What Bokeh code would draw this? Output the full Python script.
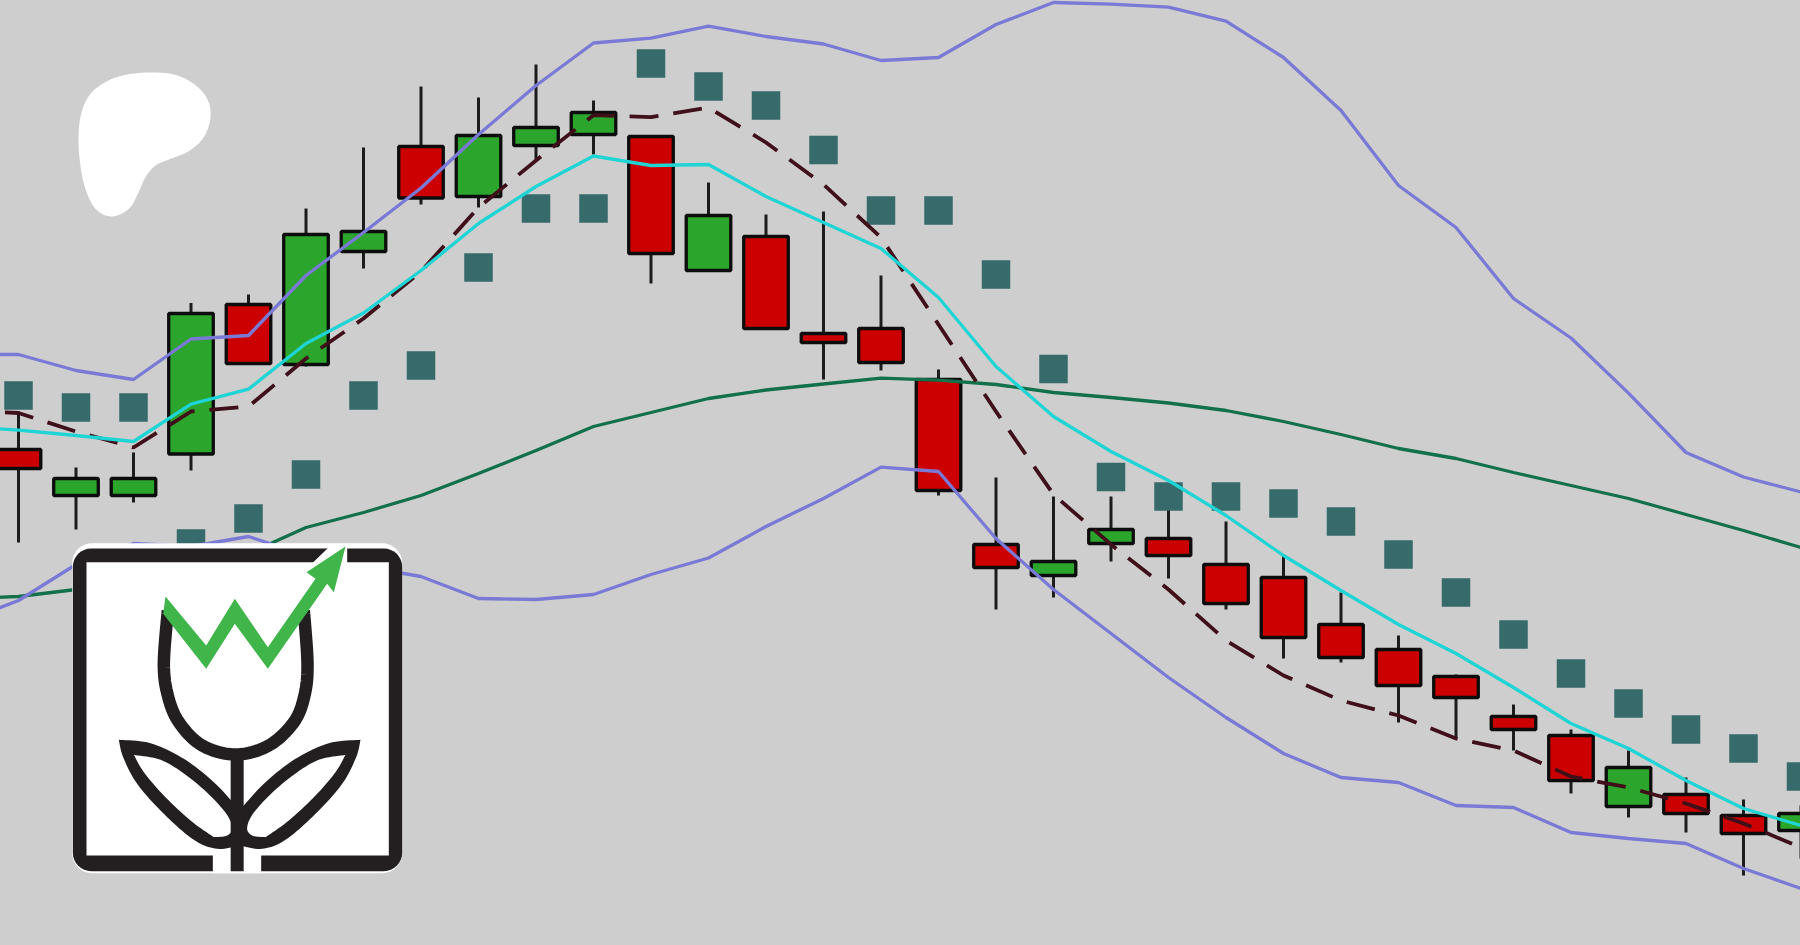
from bokeh.plotting import figure
from bokeh.models import Range1d
from bokeh.embed import file_html
from bokeh.resources import INLINE
import math

# ---- chart values (vertical scale runs downward) ----
direction = ["d","u","u","u","d","u","u","d","u","u","u","d","u","d","d","d","d","d","u","u",
             "d","d","d","d","d","d","d","d","u","d","d","u"]
body_top = [449,478,478,313,304,234,231,146,135,127,112,136,215,236,333,328,379,544,561,529,
            538,564,577,624,649,676,716,735,767,794,815,813]
body_bottom = [468,495,495,453.5,363,364,251,197.5,196,145,134,253,270,328,342,362,490,567,575,543,
               555,603,637,657,685,697,729,780,806,813,833,830]
wick_high = [411,467,452,302.5,294,208,147,86,97,64,100,136,182,214,211,275,369,477,496,496,
             510,521,555,592,635,674,704,729,750,777,799,805]
wick_low = [542,529,502,470,363,366,268,204,207,159,154,283,270,328,379,370,495,609,597,561,
            578,609,658,662,722,738,750,793,817,832,875,858]
sar = [395,407,407,543,518,474,395,365,267,208,208,63,86,105,149.5,210,210,274,368.5,476.5,
       496,496,503,521,554,592,634,673,703,729,748,776]
# the indicator lines start one bar before the first visible candle
band_upper = [354,354,370,379,338.5,335,275,232,187.5,134,85,42.5,37.6,25.7,36,43.5,60,57,24,2,3.6,
              6.7,20.7,57,110,185,227,298,337.5,392.6,452,476.5,491.5]
band_lower = [622,600,564,543,546,536,555,566,576,598,599,594,574,557.5,526,498,466.6,471,538,589,633,
              677,717,753,777,782,805,807,832,838,843,868,888]
fast_ma = [426,429.6,435,441,403.6,388.6,343,312.5,270,223,186,155.5,165,164,196,222,248,297,366,416,451,
           480,515,555,590,624,653,687,723,748,780,808,825]
slow_ma = [598,596,589,578,566,553,527,512,495,473,450,426,412,398,389.5,383.5,377.6,379.6,384,392,397,
           402.5,410,421,434,448,458,472,485,498,514,530,547]
mid_ma = [410,412.5,431,447,411,406,358,318,271,207,160,114.7,116.6,107,142,184,237,324,411,494,544,
          589,640,675,700,715,738,750,776,787,803,823,847]
index = list(range(len(direction)))
line_index = list(range(-1, len(direction)))

STEP = 57.5
X0 = 18.0
BG = "#cecece"
PAD = 4


def chart_x(px):
    return (px - X0) / STEP


p = figure(width=1800 + 2 * PAD, height=945 + 2 * PAD, output_backend="svg", toolbar_location=None,
           x_range=Range1d(chart_x(-PAD), chart_x(1800 + PAD)), y_range=Range1d(945 + PAD, -PAD),
           x_axis_location=None, y_axis_location=None, min_border=0,
           background_fill_color=BG, border_fill_color=BG, outline_line_color=None,
           styles={"position": "fixed", "left": f"{-PAD}px", "top": f"{-PAD}px",
                   "filter": "blur(0.7px)"})
p.grid.visible = False

# ---- parabolic SAR ----
p.scatter(index, sar, marker="square", size=28.5, fill_color="#366a6b", line_color=None)

# ---- candles ----
COL = {"u": "#2ca52c", "d": "#cc0000"}
p.segment(index, wick_high, index, wick_low, line_color="#1c1c1c", line_width=3)
p.vbar(x=index, width=0.775, top=body_top, bottom=body_bottom,
       fill_color=[COL[d] for d in direction], line_color="#0c0c0c", line_width=3.3)

# ---- indicator lines ----
p.line(line_index, slow_ma, line_color="#12704a", line_width=3.3)
p.line(line_index, band_upper, line_color="#7a7ad6", line_width=3.3)
p.line(line_index, band_lower, line_color="#7a7ad6", line_width=3.3)
p.line(line_index, mid_ma, line_color="#3f0f1a", line_width=3.8, line_dash="29 15")
p.line(line_index, fast_ma, line_color="#1fd4d4", line_width=3.3)


# ---- decorations: shapes are drawn in pixel space and passed through the scales ----
def _cr(p0, p1, p2, p3, t):
    f = lambda a, b, c, d: 0.5 * (2 * b + (c - a) * t + (2 * a - 5 * b + 4 * c - d) * t * t
                                  + (3 * b - a - 3 * c + d) * t ** 3)
    return f(p0[0], p1[0], p2[0], p3[0]), f(p0[1], p1[1], p2[1], p3[1])


def spline(pts, n=10):
    m = len(pts)
    return [_cr(pts[i - 1], pts[i], pts[(i + 1) % m], pts[(i + 2) % m], k / n)
            for i in range(m) for k in range(n)]


def open_spline(pts, n=10):
    q = [pts[0]] + list(pts) + [pts[-1]]
    out = [_cr(q[i - 1], q[i], q[i + 1], q[i + 2], k / n)
           for i in range(1, len(q) - 2) for k in range(n)]
    return out + [pts[-1]]


blob = [(270, 36), (340, 42), (400, 70), (440, 115), (450, 170), (430, 230), (385, 272), (330, 295),
        (285, 315), (255, 350), (232, 400), (205, 445), (155, 468), (110, 450), (80, 400), (62, 330),
        (54, 240), (62, 160), (90, 100), (140, 62), (200, 42)]
blob_s = spline(blob)
p.patch([chart_x(60 + a / 3) for a, b in blob_s], [60 + b / 3 for a, b in blob_s],
        fill_color="white", line_color=None)


def lx(v):
    return chart_x(50 + v / 3)


def ly(v):
    return 520 + v / 3


def lpatch(pts, **kw):
    p.patch([lx(a) for a, b in pts], [ly(b) for a, b in pts], **kw)


def lline(pts, **kw):
    p.line([lx(a) for a, b in pts], [ly(b) for a, b in pts], **kw)


def rrect(x0, y0, x1, y1, r):
    out = []
    for cx, cy, a0 in [(x1 - r, y0 + r, -90), (x1 - r, y1 - r, 0), (x0 + r, y1 - r, 90), (x0 + r, y0 + r, 180)]:
        for k in range(9):
            a = math.radians(a0 + k * 90 / 8)
            out.append((cx + r * math.cos(a), cy + r * math.sin(a)))
    return out


INK = "#231f20"
lpatch(rrect(65, 68, 1055, 1058, 60), fill_color="white", line_color=None)
lpatch(rrect(67, 84, 1055, 1052, 55), fill_color=INK, line_color=None)
lpatch([(108, 125), (1015, 125), (1015, 1005), (108, 1005)], fill_color="white", line_color=None)
lpatch([(487, 1000), (632, 1000), (632, 1058), (487, 1058)], fill_color="white", line_color=None)
lpatch([(835, 80), (890, 80), (890, 128), (785, 128)], fill_color="white", line_color=None)

tulip = open_spline([(352, 270), (340, 430), (352, 525), (385, 605), (455, 675), (555, 702),
                     (655, 675), (730, 605), (762, 525), (771, 430), (760, 270)])
lline(tulip, line_color=INK, line_width=12.5)

leaf_outer_up = [(205, 658), (300, 668), (400, 715), (490, 785), (560, 860)]
leaf_outer_down = [(565, 975), (500, 985), (430, 958), (340, 880), (260, 790), (218, 710), (205, 658)]
leaf_hole_up = [(250, 703), (340, 722), (440, 790), (520, 870), (545, 920), (530, 945), (490, 950)]
leaf_hole_down = [(490, 950), (420, 900), (340, 825), (280, 755), (250, 703)]
leaf_outer = open_spline(leaf_outer_up) + open_spline(leaf_outer_down)
leaf_hole = open_spline(leaf_hole_up) + open_spline(leaf_hole_down)
for flip in (False, True):
    m = (lambda pts: [(1135 - a, b) for a, b in pts]) if flip else (lambda pts: pts)
    lpatch(m(leaf_outer), fill_color=INK, line_color=None)
    lpatch(m(leaf_hole), fill_color="white", line_color=None)
lline([(560, 705), (560, 1052)], line_color=INK, line_width=13)
arrow = [(345, 228), (467, 375), (553, 235), (652, 380), (795, 175), (768, 155), (885, 78),
         (850, 215), (830, 190), (652, 445), (553, 310), (467, 445), (338, 280)]
lpatch(arrow, fill_color="#3fb54a", line_color=None)

open("out.html", "w").write(file_html(p, INLINE))
